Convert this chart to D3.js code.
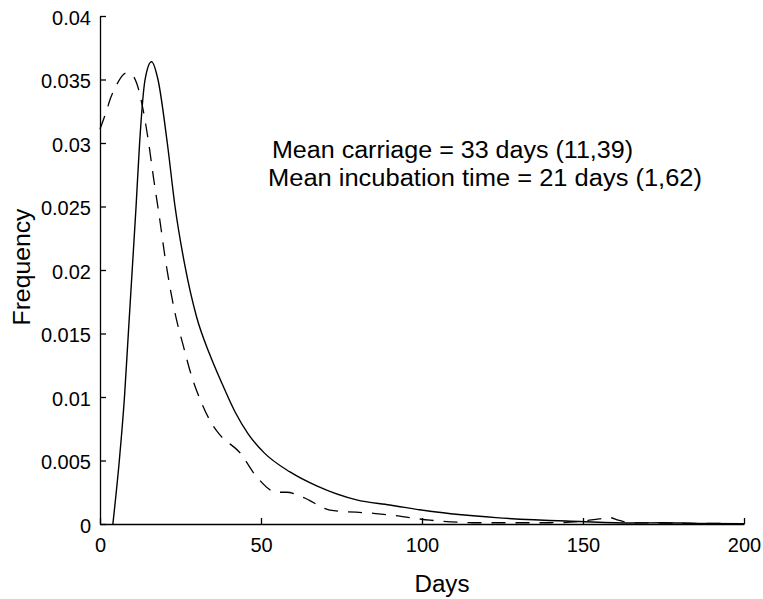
<!DOCTYPE html>
<html>
<head>
<meta charset="utf-8">
<script src="https://cdn.jsdelivr.net/npm/d3@7"></script>
<style>
  body { margin: 0; background: #fff; }
  svg { display: block; font-family: "Liberation Sans", Arial, Helvetica, sans-serif; }
  .axis path, .axis line { stroke: #000; stroke-width: 1.3; }
  .axis text { font-size: 20px; fill: #000; }
</style>
</head>
<body>
<svg id="chart"></svg>
<script>
// carriage duration (solid line)
const carriageDays = [4, 6, 7.6, 8.8, 10, 11.2, 12.3, 14, 16, 18, 20.9, 23.3, 26.4, 30, 34, 38, 42, 46, 51, 59, 67.3, 79.7, 90, 102.5, 123, 149, 165, 175, 185, 200];
const carriageFreq = [0, 0.005, 0.010, 0.015, 0.020, 0.025, 0.030, 0.035, 0.0364, 0.035, 0.030, 0.025, 0.0203, 0.0163, 0.0134, 0.0110, 0.0088, 0.0071, 0.0056, 0.0041, 0.0030, 0.0019, 0.0015, 0.0010, 0.0005, 0.0002, 0.00008, 0.0001, 0.00005, 0.00002];

// incubation time (dashed line)
const incubationDays = [0, 2.1, 3.1, 5.2, 8.1, 9.8, 11.4, 13.4, 15, 16.6, 18.6, 20.2, 21.7, 23.3, 25.9, 28.5, 31.6, 35.2, 37.3, 43.5, 48.7, 54.9, 58, 63.1, 71.4, 84.9, 90, 102.5, 118, 140, 149, 155, 158.4, 161, 165, 200];
const incubationFreq = [0.0311, 0.0326, 0.0334, 0.0346, 0.0355, 0.0354, 0.0347, 0.0326, 0.0302, 0.0273, 0.0239, 0.0210, 0.0187, 0.0166, 0.0140, 0.0116, 0.0095, 0.0077, 0.0070, 0.0056, 0.0037, 0.0025, 0.0025, 0.0021, 0.0011, 0.00084, 0.00071, 0.0003, 0.0001, 0.0001, 0.0002, 0.0004, 0.0005, 0.0003, 0.0001, 0.00003];

const xTicks = [0, 50, 100, 150, 200];
const yTicks = [0, 0.005, 0.01, 0.015, 0.02, 0.025, 0.03, 0.035, 0.04];
const notes = ["Mean carriage = 33 days (11,39)", "Mean incubation time = 21 days (1,62)"];

const width = 763, height = 599;
const margin = { top: 16, right: 19, bottom: 75, left: 100 };
const w = width - margin.left - margin.right;
const h = height - margin.top - margin.bottom;

const svg = d3.select('#chart')
    .attr('width', width)
    .attr('height', height);

const chart = svg.append('g')
    .attr('transform', `translate(${margin.left},${margin.top})`);

const xScale = d3.scaleLinear().domain([0, 200]).range([0, w]);
const yScale = d3.scaleLinear().domain([0, 0.04]).range([h, 0]);

// axes, ticks pointing inward
const xAxis = d3.axisBottom(xScale).tickValues(xTicks).tickFormat(d3.format('d'))
    .tickSizeInner(-6).tickSizeOuter(0).tickPadding(14);
const yAxis = d3.axisLeft(yScale).tickValues(yTicks).tickFormat(d => d === 0 ? '0' : String(+d.toFixed(3)))
    .tickSizeInner(-6).tickSizeOuter(0).tickPadding(9);

chart.append('g')
    .attr('class', 'axis x-axis')
    .attr('transform', `translate(0,${h})`)
    .call(xAxis);

chart.append('g')
    .attr('class', 'axis y-axis')
    .call(yAxis)
    .selectAll('text').attr('dy', '0.42em');

const line = d3.line()
    .x(d => xScale(d[0]))
    .y(d => yScale(d[1]))
    .curve(d3.curveMonotoneX);

chart.append('path')
    .datum(d3.zip(incubationDays, incubationFreq))
    .attr('fill', 'none')
    .attr('stroke', '#000')
    .attr('stroke-width', 1.3)
    .attr('stroke-dasharray', '14,10')
    .attr('d', line);

chart.append('path')
    .datum(d3.zip(carriageDays, carriageFreq))
    .attr('fill', 'none')
    .attr('stroke', '#000')
    .attr('stroke-width', 1.4)
    .attr('d', line);

// annotation
const noteX = [272, 268], noteY = [158, 186], noteLen = [361, 434];
notes.forEach((t, i) => {
  svg.append('text')
      .attr('x', noteX[i])
      .attr('y', noteY[i])
      .attr('font-size', 23)
      .attr('textLength', noteLen[i])
      .attr('lengthAdjust', 'spacingAndGlyphs')
      .text(t);
});

// axis titles
svg.append('text')
    .attr('x', 442)
    .attr('y', 592)
    .attr('text-anchor', 'middle')
    .attr('font-size', 23)
    .attr('textLength', 55)
    .attr('lengthAdjust', 'spacingAndGlyphs')
    .text('Days');

svg.append('text')
    .attr('transform', 'translate(30,267) rotate(-90)')
    .attr('text-anchor', 'middle')
    .attr('font-size', 24)
    .attr('textLength', 117)
    .attr('lengthAdjust', 'spacingAndGlyphs')
    .text('Frequency');
</script>
</body>
</html>
